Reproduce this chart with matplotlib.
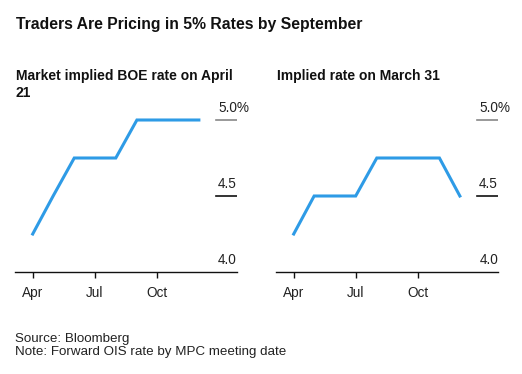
import matplotlib
matplotlib.use("Agg")
import matplotlib.pyplot as plt
import pandas as pd

plt.rcParams['font.family'] = ['Liberation Sans', 'DejaVu Sans']

# data: forward OIS rate by month (MPC meeting path)
months = pd.to_datetime(["2023-04-01", "2023-05-01", "2023-06-01", "2023-07-01", "2023-08-01",
                         "2023-09-01", "2023-10-01", "2023-11-01", "2023-12-01"])
rate_apr21 = [4.25, 4.5, 4.75, 4.75, 4.75, 5.0, 5.0, 5.0, 5.0]
rate_mar31 = [4.25, 4.5, 4.5, 4.5, 4.75, 4.75, 4.75, 4.75, 4.5]

panel_titles = ["Market implied BOE rate on April\n21", "Implied rate on March 31"]
y_levels = [4.0, 4.5, 5.0]
y_labels = ["4.0", "4.5", "5.0"]
x_ticks = pd.to_datetime(["2023-04-01", "2023-07-01", "2023-10-01"])
x_ticklabels = ["Apr", "Jul", "Oct"]

BLUE = '#2e9be6'

fig = plt.figure(figsize=(5.22, 3.74), dpi=100)
renderer = fig.canvas.get_renderer()

fig.text(16/522, 1 - 29.5/374, "Traders Are Pricing in 5% Rates by September",
         fontsize=11.3, fontweight='bold', ha='left', va='baseline', color='#111111')

lefts = [15/522, 276/522]
series = [rate_apr21, rate_mar31]
for k in range(2):
    ax = fig.add_axes([lefts[k], 1 - 272/374, 222/522, 174.8/374])
    ax.plot(months, series[k], color=BLUE, lw=2.2, solid_joinstyle='miter')
    ax.set_xlim(pd.Timestamp("2023-03-06"), pd.Timestamp("2024-01-26"))
    ax.set_ylim(4.0, 5.15)

    for s in ['top', 'right', 'left']:
        ax.spines[s].set_visible(False)
    ax.spines['bottom'].set_linewidth(1.0)
    ax.spines['bottom'].set_color('#111111')
    ax.set_yticks([])
    ax.set_xticks(x_ticks)
    ax.set_xticklabels(x_ticklabels)
    ax.tick_params(axis='x', length=4, width=1, color='#111111', pad=6,
                   labelsize=9.8, labelcolor='#222222')

    # short grid segments with labels at the right
    for yv, lab in zip(y_levels, y_labels):
        if yv > 4.0:
            col = '#888888' if yv == 5.0 else '#111111'
            ax.axhline(yv, xmin=0.905, xmax=1.0, color=col, lw=1.2)
        t = ax.annotate(lab, xy=(1.0, yv), xycoords=('axes fraction', 'data'),
                        xytext=(0, 5.6), textcoords='offset points',
                        ha='right', va='baseline', fontsize=9.8, color='#222222')
        if yv == 5.0:
            # keep "5.0" aligned with the others, let the % hang past the edge
            w = t.get_window_extent(renderer).width * 72 / fig.dpi
            t.set_text(lab + "%")
            t.set_ha('left')
            t.xyann = (-w, 5.6)

    fig.text(lefts[k] + 1/522, 1 - 69/374, panel_titles[k], fontsize=10,
             fontweight='bold', ha='left', va='top', linespacing=1.3, color='#111111')

fig.text(15/522, 1 - 342/374, "Source: Bloomberg", fontsize=9.6, ha='left',
         va='baseline', color='#222222')
fig.text(15/522, 1 - 355/374, "Note: Forward OIS rate by MPC meeting date", fontsize=9.6,
         ha='left', va='baseline', color='#222222')

fig.savefig("out.png", dpi=100)
